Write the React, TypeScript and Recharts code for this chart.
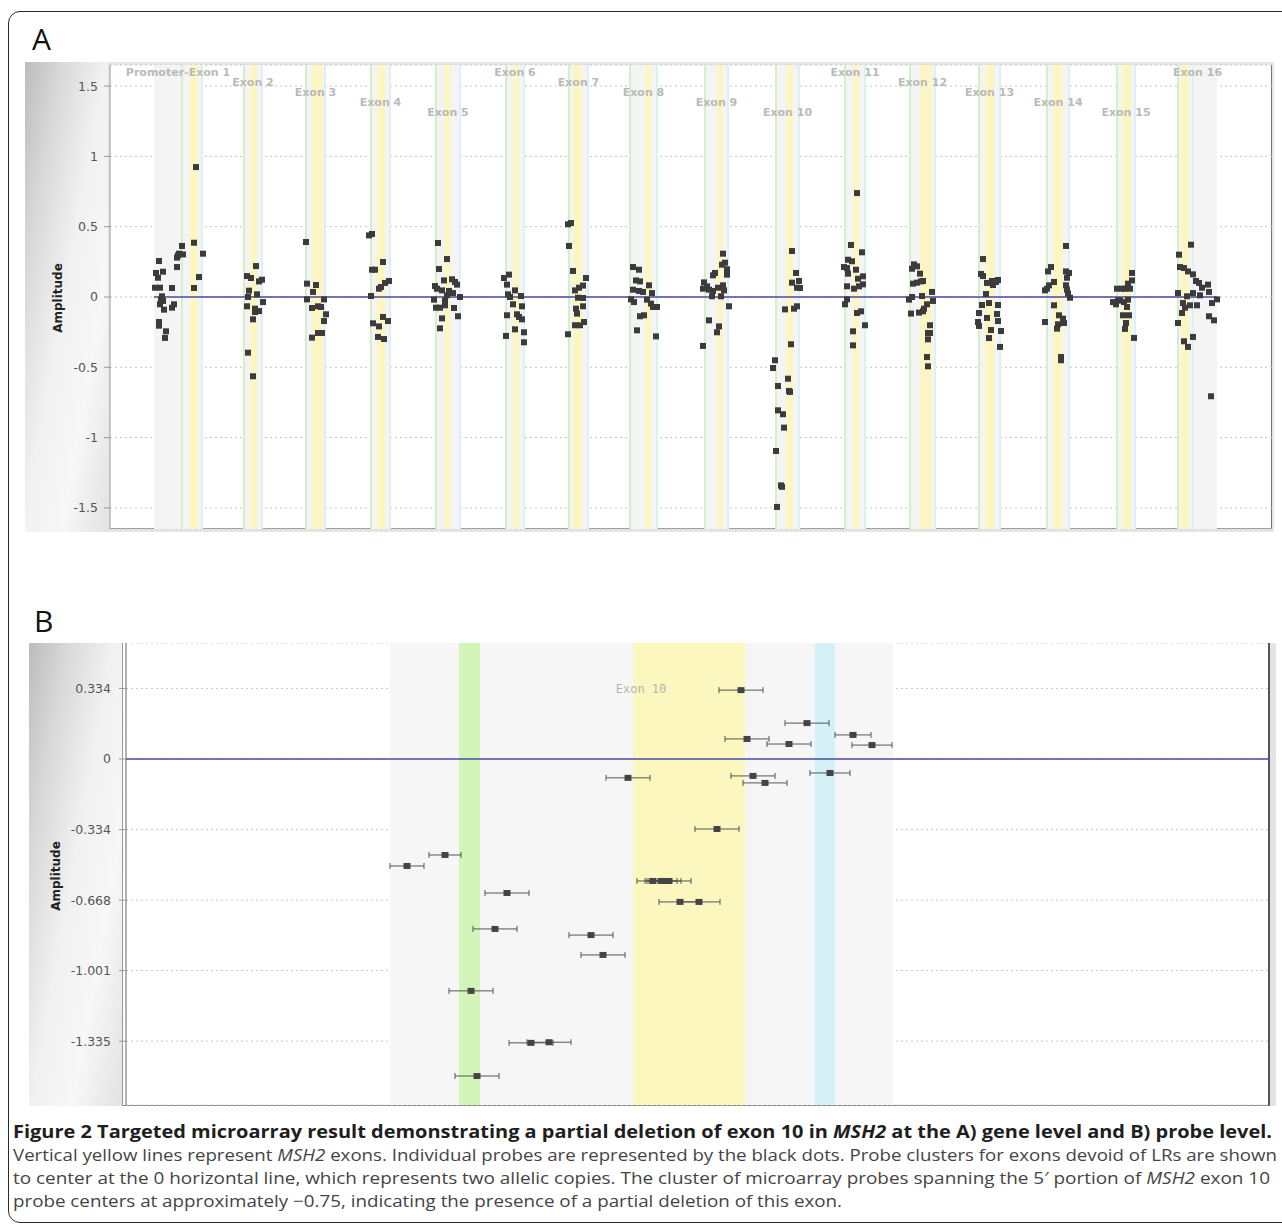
import React from "react";
import {
  ScatterChart,
  Scatter,
  XAxis,
  YAxis,
  CartesianGrid,
  ReferenceArea,
  ReferenceLine,
  ReferenceDot,
  ErrorBar,
} from "recharts";

// ---- Panel A: gene level ----
const exonNames = [
  "Promoter-Exon 1", "Exon 2", "Exon 3", "Exon 4", "Exon 5", "Exon 6", "Exon 7", "Exon 8",
  "Exon 9", "Exon 10", "Exon 11", "Exon 12", "Exon 13", "Exon 14", "Exon 15", "Exon 16",
];
const exonStart = [182, 244, 306, 371, 436, 506, 569, 630, 705, 776, 845, 910, 979, 1047, 1117, 1178];
const exonEnd = [202, 262, 325, 390, 460, 524, 588, 657, 728, 799, 865, 935, 1000, 1069, 1135, 1193];
const codingStart = [190, 250, 312, 377, 444, 513, 573, 645, 717, 786, 853, 920, 985, 1053, 1122, 1181];
const codingEnd = [198, 257, 323, 385, 450, 519, 582, 651, 723, 793, 859, 932, 994, 1063, 1131, 1189];
const promoterStart = 154;
const geneEnd = 1217;
const ampDomainA = [-1.65, 1.65];
const ampTicksA = [-1.5, -1, -0.5, 0, 0.5, 1, 1.5];

const exon1Probes = [[159,0.256],[156,0.171],[158,0.137],[163,0.18],[155,0.066],[160,0.066],[172,0.064],[162,0.005],[161,-0.019],[163,-0.028],[160,-0.052],[164,-0.09],[172,-0.076],[174,-0.052],[159,-0.178],[159,-0.204],[166,-0.244],[165,-0.291],[177,0.213],[177,0.28],[179,0.308],[182,0.363],[183,0.303],[178,0.296],[194,0.386],[203,0.308],[199,0.142],[194,0.064],[196,0.924]];
const exon2Probes = [[256,0.22],[247,0.149],[251,0.135],[259,0.111],[262,0.123],[249,0.045],[257,0.019],[248,0],[263,-0.036],[247,-0.066],[255,-0.083],[259,-0.1],[255,-0.107],[253,-0.159],[248,-0.396],[253,-0.564]];
const exon3Probes = [[306,0.391],[307,0.095],[316,0.085],[313,0.036],[307,-0.017],[324,-0.017],[312,-0.078],[318,-0.066],[321,-0.071],[326,-0.123],[324,-0.171],[312,-0.289],[318,-0.256],[322,-0.256]];
const exon4Probes = [[369,0.438],[372,0.448],[372,0.194],[375,0.194],[383,0.249],[371,0.007],[379,0.059],[381,0.071],[385,0.1],[389,0.114],[373,-0.187],[379,-0.209],[383,-0.142],[388,-0.171],[378,-0.284],[384,-0.299]];
const exon5Probes = [[438,0.384],[447,0.27],[439,0.199],[444,0.118],[452,0.126],[455,0.107],[457,0.088],[435,0.078],[437,0.059],[442,0.047],[449,0.043],[453,0.028],[447,0.012],[460,0],[434,-0.019],[445,-0.024],[440,-0.076],[436,-0.076],[445,-0.059],[454,-0.078],[458,-0.137],[442,-0.152],[440,-0.223]];
const exon6Probes = [[509,0.159],[504,0.135],[507,0.088],[515,0.047],[508,0.019],[510,0],[521,0.007],[513,-0.052],[522,-0.066],[507,-0.13],[517,-0.123],[519,-0.142],[522,-0.159],[515,-0.23],[506,-0.277],[524,-0.251],[524,-0.322]];
const exon7Probes = [[568,0.517],[571,0.526],[569,0.363],[573,0.185],[586,0.135],[583,0.081],[579,0.066],[575,0.047],[578,-0.005],[583,-0.007],[583,-0.066],[576,-0.083],[577,-0.118],[584,-0.178],[575,-0.201],[580,-0.201],[568,-0.265]];
const exon8Probes = [[633,0.213],[639,0.194],[636,0.118],[640,0.111],[649,0.083],[633,0.052],[639,0.043],[643,0.036],[652,0.028],[631,-0.017],[634,-0.036],[647,-0.019],[651,-0.047],[653,-0.071],[657,-0.071],[644,-0.13],[640,-0.137],[637,-0.237],[656,-0.28]];
const exon9Probes = [[723,0.308],[725,0.244],[722,0.23],[727,0.197],[727,0.159],[715,0.171],[713,0.154],[704,0.104],[707,0.076],[703,0.059],[709,0.052],[713,0.043],[718,0.066],[723,0.083],[724,0.047],[712,0.005],[721,0.005],[729,-0.066],[709,-0.166],[719,-0.209],[717,-0.251],[703,-0.348]];
const exon10Probes = [[792,0.327],[796,0.171],[799,0.114],[792,0.102],[797,0.066],[800,0.064],[785,-0.088],[794,-0.083],[797,-0.066],[791,-0.336],[775,-0.45],[773,-0.505],[788,-0.581],[778,-0.633],[790,-0.675],[789,-0.668],[778,-0.806],[783,-0.834],[784,-0.929],[776,-1.095],[781,-1.34],[782,-1.35],[777,-1.493]];
const exon11Probes = [[851,0.37],[862,0.318],[848,0.265],[852,0.254],[844,0.213],[847,0.206],[856,0.194],[848,0.166],[863,0.147],[858,0.13],[863,0.09],[847,0.076],[854,0.059],[859,0.076],[847,-0.017],[845,-0.052],[857,-0.114],[861,-0.102],[865,-0.201],[853,-0.244],[853,-0.344],[857,0.739]];
const exon12Probes = [[914,0.232],[917,0.218],[912,0.201],[920,0.166],[913,0.095],[917,0.102],[921,0.111],[923,0.114],[932,0.036],[922,0.007],[909,-0.019],[912,0],[933,-0.028],[927,-0.052],[924,-0.083],[923,-0.102],[919,-0.111],[911,-0.118],[930,-0.201],[928,-0.256],[930,-0.256],[928,-0.301],[927,-0.427],[928,-0.493]];
const exon13Probes = [[983,0.27],[981,0.164],[983,0.149],[987,0.1],[992,0.114],[996,0.107],[998,0.121],[993,0.085],[986,0.021],[982,-0.057],[989,-0.043],[998,-0.057],[979,-0.114],[987,-0.149],[997,-0.121],[978,-0.178],[979,-0.206],[998,-0.171],[991,-0.235],[989,-0.292],[1001,-0.242],[1000,-0.355]];
const exon14Probes = [[1066,0.363],[1051,0.213],[1048,0.182],[1066,0.182],[1069,0.171],[1067,0.137],[1054,0.107],[1049,0.083],[1047,0.059],[1045,0.047],[1066,0.083],[1067,0.052],[1070,-0.005],[1068,0.024],[1054,-0.059],[1045,-0.178],[1059,-0.13],[1063,-0.154],[1064,-0.185],[1058,-0.194],[1057,-0.225],[1061,-0.427],[1061,-0.45]];
const exon15Probes = [[1132,0.171],[1132,0.118],[1128,0.095],[1117,0.059],[1122,0.059],[1125,0.059],[1130,0.059],[1113,-0.036],[1116,-0.052],[1120,-0.024],[1124,-0.036],[1128,-0.019],[1127,-0.071],[1123,-0.13],[1129,-0.13],[1126,-0.185],[1125,-0.227],[1134,-0.291],[1118,-0.024]];
const exon16Probes = [[1191,0.372],[1179,0.301],[1180,0.213],[1184,0.206],[1188,0.182],[1193,0.161],[1196,0.114],[1199,0.1],[1202,0.066],[1208,0.088],[1209,0.036],[1193,0.028],[1200,0.012],[1178,0.028],[1187,0.005],[1217,-0.017],[1212,-0.043],[1183,-0.043],[1185,-0.076],[1190,-0.059],[1197,-0.059],[1182,-0.114],[1209,-0.137],[1214,-0.166],[1178,-0.185],[1193,-0.284],[1184,-0.315],[1188,-0.355],[1211,-0.706]];

// ---- Panel B: probe level, exon 10 ----
const intronRegionB = [390, 893];
const greenRegionB = [459, 480];
const exon10RegionB = [633, 745];
const blueRegionB = [815, 835];
const exon10LabelPos = 641;
const ampTicksB = [0.334, 0, -0.334, -0.668, -1.001, -1.335];

const probePosB = [628, 445, 407, 507, 495, 591, 603, 471, 531, 549, 477, 741, 807, 747, 789, 853, 872, 830, 753, 765, 717, 653, 661, 665, 669, 680, 699];
const probeAmpB = [-0.089, -0.454, -0.506, -0.634, -0.804, -0.833, -0.927, -1.097, -1.343, -1.34, -1.5, 0.326, 0.17, 0.095, 0.071, 0.114, 0.066, -0.066, -0.08, -0.113, -0.331, -0.577, -0.577, -0.577, -0.577, -0.676, -0.676];
const probeSpanB = [22, 16, 17, 22, 22, 22, 22, 22, 22, 22, 22, 22, 22, 22, 22, 18, 20, 20, 22, 22, 22, 16, 16, 16, 22, 21, 21];

const probesA = [
  exon1Probes, exon2Probes, exon3Probes, exon4Probes, exon5Probes, exon6Probes, exon7Probes, exon8Probes,
  exon9Probes, exon10Probes, exon11Probes, exon12Probes, exon13Probes, exon14Probes, exon15Probes, exon16Probes,
].flat().map(([pos, amp]) => ({ pos, amp }));

const probesB = probePosB.map((pos, i) => ({ pos, amp: probeAmpB[i], span: probeSpanB[i] }));

const tickStyle = { fill: "#555", fontSize: 12.5, fontFamily: "DejaVu Sans" };

const SquareA = (p: any) => (
  <rect x={p.cx - 3} y={p.cy - 3} width={6} height={6} fill="#3b3b3b" />
);
const SquareB = (p: any) => (
  <rect x={p.cx - 3.5} y={p.cy - 3} width={7} height={6} fill="#444" />
);

// exon name, staggered on five rows below the top of the plot
function ExonLabel(props: any) {
  const { viewBox, text, level } = props;
  if (!viewBox) return null;
  return (
    <text
      x={viewBox.x + viewBox.width / 2}
      y={viewBox.y + 11 + level * 10}
      textAnchor="middle"
      fontFamily="DejaVu Sans"
      fontWeight="bold"
      fontSize={11}
      fill="#bababa"
    >
      {text}
    </text>
  );
}

function GeneChart() {
  const last = exonNames.length - 1;
  const bandFrom = (i: number) => (i === 0 ? promoterStart : exonStart[i]);
  const bandTo = (i: number) => (i === last ? geneEnd : exonEnd[i]);
  return (
    <ScatterChart width={1255} height={470} margin={{ top: 3, right: 8, bottom: 3, left: 0 }}>
      <CartesianGrid horizontal vertical={false} stroke="#c4c4c4" strokeDasharray="2 3" />
      <XAxis type="number" dataKey="pos" domain={[110, 1272]} hide allowDataOverflow />
      <YAxis
        type="number"
        dataKey="amp"
        domain={ampDomainA}
        ticks={ampTicksA}
        width={85}
        tick={tickStyle}
        tickSize={6}
        tickMargin={6}
        axisLine={{ stroke: "#999" }}
        tickLine={{ stroke: "#999" }}
        allowDataOverflow
      />
      {exonNames.map((n, i) => (
        <ReferenceArea key={"g" + n} x1={bandFrom(i)} x2={bandTo(i)} fill="#f3f4f3" fillOpacity={1} stroke="none" />
      ))}
      {exonNames.map((n, i) => (
        <ReferenceArea key={"y" + n} x1={codingStart[i]} x2={codingEnd[i]} fill="#fcf7c2" fillOpacity={1} stroke="none" />
      ))}
      {exonNames.map((n, i) => (
        <ReferenceLine key={"s" + n} x={exonStart[i]} stroke="#d3f0cb" strokeWidth={2} />
      ))}
      {exonNames.map((n, i) => (
        <ReferenceLine key={"e" + n} x={exonEnd[i]} stroke="#dcf0f7" strokeWidth={2} />
      ))}
      <ReferenceLine
        segment={[{ x: promoterStart, y: 0 }, { x: geneEnd, y: 0 }]}
        stroke="#4a4aa0"
        strokeWidth={1.5}
      />
      {exonNames.map((n, i) => (
        <ReferenceDot
          key={"l" + n}
          x={(bandFrom(i) + bandTo(i)) / 2}
          y={ampDomainA[1]}
          r={0}
          fill="none"
          stroke="none"
          label={<ExonLabel text={n} level={i % 5} />}
        />
      ))}
      <Scatter data={probesA} shape={SquareA} isAnimationActive={false} />
    </ScatterChart>
  );
}

function ProbeChart() {
  return (
    <ScatterChart width={1247} height={463} margin={{ top: 0, right: 7, bottom: 1, left: 0 }}>
      <CartesianGrid horizontal vertical={false} stroke="#c8c8c8" strokeDasharray="2 3" />
      <XAxis type="number" dataKey="pos" domain={[126, 1269]} hide allowDataOverflow />
      <YAxis
        type="number"
        dataKey="amp"
        domain={[-1.637, 0.549]}
        ticks={ampTicksB}
        width={97}
        tick={tickStyle}
        tickSize={7}
        tickMargin={8}
        axisLine={{ stroke: "#666" }}
        tickLine={{ stroke: "#999" }}
        allowDataOverflow
      />
      <ReferenceArea x1={intronRegionB[0]} x2={intronRegionB[1]} fill="#f6f6f6" fillOpacity={1} stroke="none" />
      <ReferenceArea x1={greenRegionB[0]} x2={greenRegionB[1]} fill="#d3f5ba" fillOpacity={1} stroke="none" />
      <ReferenceArea x1={exon10RegionB[0]} x2={exon10RegionB[1]} fill="#fcf6bf" fillOpacity={1} stroke="none" />
      <ReferenceArea x1={blueRegionB[0]} x2={blueRegionB[1]} fill="#d3f1f7" fillOpacity={1} stroke="none" />
      <ReferenceLine y={0} stroke="#4a4aa0" strokeWidth={1.5} />
      <ReferenceDot
        x={exon10LabelPos}
        y={ampTicksB[0]}
        r={0}
        stroke="none"
        fill="none"
        label={{ value: "Exon 10", position: "center", fill: "#b5b5b5", fontSize: 12, fontFamily: "DejaVu Sans Mono" }}
      />
      <Scatter data={probesB} shape={SquareB} isAnimationActive={false}>
        <ErrorBar dataKey="span" direction="x" width={3} stroke="#555" strokeWidth={1} />
      </Scatter>
    </ScatterChart>
  );
}

const abs = (s: React.CSSProperties): React.CSSProperties => ({ position: "absolute", ...s });
const sideGradient =
  "linear-gradient(100deg, #bcbcbc 0%, #d8d8d8 22%, #f1f1f1 48%, #f7f7f7 72%, #e2e2e2 100%)";

const capFont = { fontFamily: "Open Sans", fontSize: 17 };

export default function App() {
  return (
    <div style={abs({ left: 0, top: 0, width: 1282, height: 1230, overflow: "hidden", background: "#fff" })}>
      <div style={abs({ left: 8, top: 11, width: 1300, height: 1210, border: "1.5px solid #2a2a2a", borderRadius: 12 })} />

      {/* panel A frame */}
      <div style={abs({ left: 25, top: 62, width: 1249, height: 470, background: "#e6e6e6" })} />
      <div style={abs({ left: 25, top: 62, width: 83, height: 470, background: sideGradient })} />
      <div style={abs({ left: 110, top: 65, width: 1161, height: 463, background: "#fff", borderRight: "1px solid #777", borderBottom: "1px solid #999" })} />
      <div style={abs({ left: 25, top: 62 })}>
        <GeneChart />
      </div>

      {/* panel B frame */}
      <div style={abs({ left: 29, top: 643, width: 93, height: 463, background: sideGradient, borderRight: "1px solid #999" })} />
      <div style={abs({ left: 123, top: 643, width: 1145, height: 462, background: "#fff", borderRight: "2px solid #555", borderBottom: "1px solid #888" })} />
      <div style={abs({ left: 1270, top: 643, width: 6, height: 463, background: "#e4e4e4" })} />
      <div style={abs({ left: 29, top: 643 })}>
        <ProbeChart />
      </div>

      <svg width={1282} height={1230} style={abs({ left: 0, top: 0, pointerEvents: "none" })}>
        <text x={32} y={50} fontFamily="Open Sans" fontSize={30} fill="#111">A</text>
        <text x={34} y={632} fontFamily="Open Sans" fontSize={30} fill="#111">B</text>
        <text transform="translate(61.5,298) rotate(-90)" textAnchor="middle" fontFamily="DejaVu Sans" fontWeight="bold" fontSize={12} fill="#222">Amplitude</text>
        <text transform="translate(59.5,876) rotate(-90)" textAnchor="middle" fontFamily="DejaVu Sans" fontWeight="bold" fontSize={12} fill="#222">Amplitude</text>

        <text x={13} y={1138} textLength={1259} lengthAdjust="spacingAndGlyphs" {...capFont} fontWeight={700} fill="#1e1e1e">
          Figure 2 Targeted microarray result demonstrating a partial deletion of exon 10 in <tspan fontStyle="italic">MSH2</tspan> at the A) gene level and B) probe level.
        </text>
        <text x={13} y={1161} textLength={1264} lengthAdjust="spacingAndGlyphs" {...capFont} fill="#444">
          Vertical yellow lines represent <tspan fontStyle="italic">MSH2</tspan> exons. Individual probes are represented by the black dots. Probe clusters for exons devoid of LRs are shown
        </text>
        <text x={13} y={1184} textLength={1257} lengthAdjust="spacingAndGlyphs" {...capFont} fill="#444">
          to center at the 0 horizontal line, which represents two allelic copies. The cluster of microarray probes spanning the 5′ portion of <tspan fontStyle="italic">MSH2</tspan> exon 10
        </text>
        <text x={13} y={1207} textLength={829} lengthAdjust="spacingAndGlyphs" {...capFont} fill="#444">
          probe centers at approximately −0.75, indicating the presence of a partial deletion of this exon.
        </text>
      </svg>
    </div>
  );
}
